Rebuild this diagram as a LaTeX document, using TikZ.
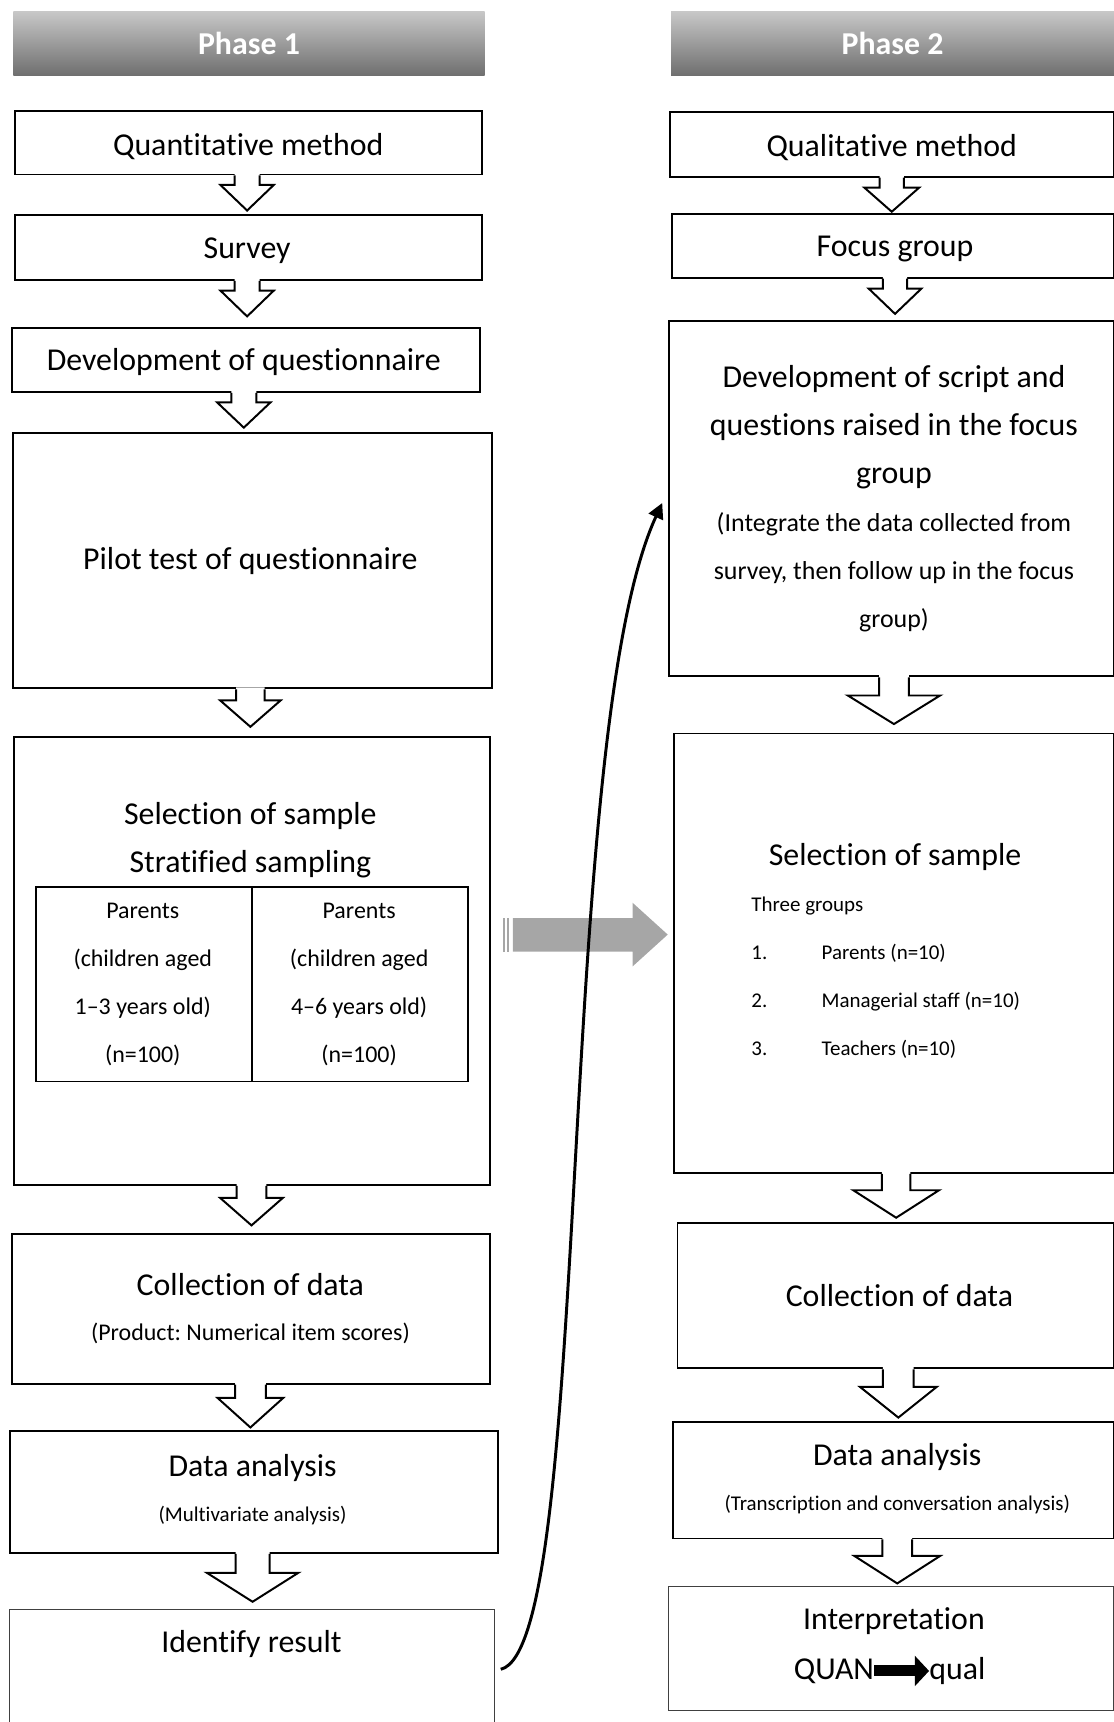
\documentclass[tikz,border=0pt]{standalone}
\usepackage{fontspec}
\setmainfont{Carlito}[Ligatures={NoCommon}]
\frenchspacing
\usetikzlibrary{arrows.meta}

\definecolor{phasetop}{HTML}{C8C8C8}
\definecolor{phasebot}{HTML}{6E6E6E}
\definecolor{arrowgrey}{HTML}{A6A6A6}

\tikzset{
  box/.style={draw, line width=1.8pt, anchor=north west, inner sep=0pt},
  thinbox/.style={draw=black!75, line width=1.1pt, anchor=north west, inner sep=0pt},
  cell/.style={draw, line width=1.6pt, anchor=north west, inner sep=0pt},
  phase/.style={anchor=north west, inner sep=0pt, top color=phasetop, bottom color=phasebot,
    text=white, font=\bfseries\fontsize{29}{35}\selectfont},
  main/.style={inner sep=0pt, align=center, font=\fontsize{29}{44}\selectfont},
  mid/.style={inner sep=0pt, align=center, font=\fontsize{21.8}{43.7}\selectfont},
  bigmid/.style={inner sep=0pt, align=center, font=\fontsize{23.6}{43.7}\selectfont},
  small/.style={inner sep=0pt, align=center, font=\fontsize{19.1}{43.7}\selectfont},
  curvearrow/.style={line width=2.7pt, -{Triangle[length=14pt,width=14pt]}},
  fatarrow/.style={line width=10pt, -{Triangle[length=13pt,width=27pt]}},
  % hollow down arrow: stem half width / head half width / stem length / head length
  pics/blockdown/.style args={#1/#2/#3/#4}{code={
    \fill[white] (-#1,-2) -- (-#1,#3) -- (-#2,#3) -- (0,#3+#4) -- (#2,#3) -- (#1,#3) -- (#1,-2) -- cycle;
    \draw[line width=1.8pt] (-#1,0) -- (-#1,#3) -- (-#2,#3) -- (0,#3+#4) -- (#2,#3) -- (#1,#3) -- (#1,0);
  }}
}

\begin{document}
\begin{tikzpicture}[x=1pt, y=-1pt]
\useasboundingbox (0,0) rectangle (1014,1568);

% headers
\node[phase, minimum width=429, minimum height=59] (ph1) at (12,10) {\raisebox{-2pt}{Phase 1}};
\node[phase, minimum width=403, minimum height=59] (ph2) at (611,10) {\raisebox{-2pt}{Phase 2}};

% phase 1 boxes
\node[box, minimum width=425, minimum height=58] (b1) at (13,100) {};
\node[box, minimum width=425, minimum height=59] (b2) at (13,195) {};
\node[box, minimum width=426, minimum height=58] (b3) at (10,298) {};
\node[box, minimum width=436, minimum height=233] (b4) at (11,393) {};
\node[box, minimum width=433, minimum height=408] (b5) at (12,670) {};
\node[box, minimum width=435, minimum height=136] (b6) at (10,1123) {};
\node[box, minimum width=445, minimum height=111] (b7) at (8,1302) {};
\node[thinbox, minimum width=442, minimum height=130] (b8) at (8,1465) {};
\node[cell, minimum width=197, minimum height=177] (t1) at (32,807) {};
\node[cell, minimum width=196, minimum height=177] (t2) at (229,807) {};

% phase 2 boxes
\node[box, minimum width=404, minimum height=59] (r1) at (609,101) {};
\node[box, minimum width=402, minimum height=58] (r2) at (611,194) {};
\node[box, minimum width=405, minimum height=324] (r3) at (608,291) {};
\node[box, minimum width=400, minimum height=400] (r4) at (613,667) {};
\node[box, minimum width=397, minimum height=132] (r5) at (616,1113) {};
\node[box, minimum width=401, minimum height=106] (r6) at (612,1294) {};
\node[thinbox, minimum width=405, minimum height=113] (r7) at (608,1444) {};

% down arrows
\pic at (225,0 |- b1.south) {blockdown=11.4/24.3/8.6/23.3};
\pic at (225,0 |- b2.south) {blockdown=11.4/24.3/8.8/23.5};
\pic at (222,0 |- b3.south) {blockdown=11.4/24.3/8.6/23};
\pic at (228,0 |- b4.south) {blockdown=13/27.5/10/24};
\pic at (229,0 |- b5.south) {blockdown=13.5/28.5/11/25};
\pic at (228,0 |- b6.south) {blockdown=14/30/12/27};
\pic at (230,0 |- b7.south) {blockdown=15.5/41.7/17.3/26.4};
\pic at (812,0 |- r1.south) {blockdown=11/25/9/22};
\pic at (815,0 |- r2.south) {blockdown=11/24/9/23};
\pic at (814,0 |- r3.south) {blockdown=13.5/42/16.5/26};
\pic at (816,0 |- r4.south) {blockdown=13/39/15/25};
\pic at (818,0 |- r5.south) {blockdown=14/35/16/28};
\pic at (817,0 |- r6.south) {blockdown=13.5/39/15/25};

% phase 1 texts
\node[main] (lb1) at (226,133) {Quantitative method};
\node[main] (lb2) at (225,228) {Survey};
\node[main] (lb3) at (222,330) {Development of questionnaire};
\node[main] (lb4) at (228,511) {Pilot test of questionnaire};
\node[main] (lb5) at (228,765) {Selection of sample\\Stratified sampling};
\node[mid] (lt1) at (130,896.5) {Parents\\(children aged\\1–3 years old)\\(n=100)};
\node[mid] (lt2) at (327,896.5) {Parents\\(children aged\\4–6 years old)\\(n=100)};
\node[main] (lb6) at (228,1170) {Collection of data};
\node[mid] (sb6) at (228,1214) {(Product: Numerical item scores)};
\node[main] (lb7) at (230,1337) {Data analysis};
\node[small] (sb7) at (230,1380) {(Multivariate analysis)};
\node[main] (lb8) at (229,1497) {Identify result};

% phase 2 texts
\node[main] (lr1) at (812,134) {Qualitative method};
\node[main] (lr2) at (815,227) {Focus group};
\node[main] (lr3) at (814,389) {Development of script and\\questions raised in the focus\\group};
\node[bigmid] (sr3) at (814,521) {(Integrate the data collected from\\survey, then follow up in the focus\\group)};
\node[main] (lr4) at (815,780) {Selection of sample};
\node[small, anchor=base west] (grp) at (684,830) {Three groups};
\foreach \n/\who in {1/Parents (n=10), 2/Managerial staff (n=10), 3/Teachers (n=10)} {
  \node[small, anchor=base west] (num\n) at (684,830+43.7*\n) {\n.};
  \node[small, anchor=base west] (who\n) at (748,830+43.7*\n) {\who};
}
\node[main] (lr5) at (819,1180) {Collection of data};
\node[main] (lr6) at (817,1327) {Data analysis};
\node[small] (sr6) at (817,1370) {(Transcription and conversation analysis)};
\node[main] (lr7) at (814,1476) {Interpretation};
\node[main, anchor=base east] (quan) at (796,1529) {QUAN};
\node[main, anchor=base west] (qual) at (846,1529) {qual};
\draw[fatarrow] (quan.east) -- (quan.east -| qual.west);

% grey striped arrow between the phases
\fill[arrowgrey] (467,836) -- (576,836) -- (576,822) -- (608,851) -- (576,880) -- (576,866.5) -- (467,866.5) -- cycle;
\fill[arrowgrey] (458,836) rectangle (460,866.5);
\fill[arrowgrey] (461.5,836) rectangle (463.5,866.5);

% result feeds the focus group
\coordinate (cstart) at (456,1520);
\coordinate (cend) at (603,458);
\draw[curvearrow] (cstart) .. controls (540,1500) and (505,670) .. (cend);

\end{tikzpicture}
\end{document}
